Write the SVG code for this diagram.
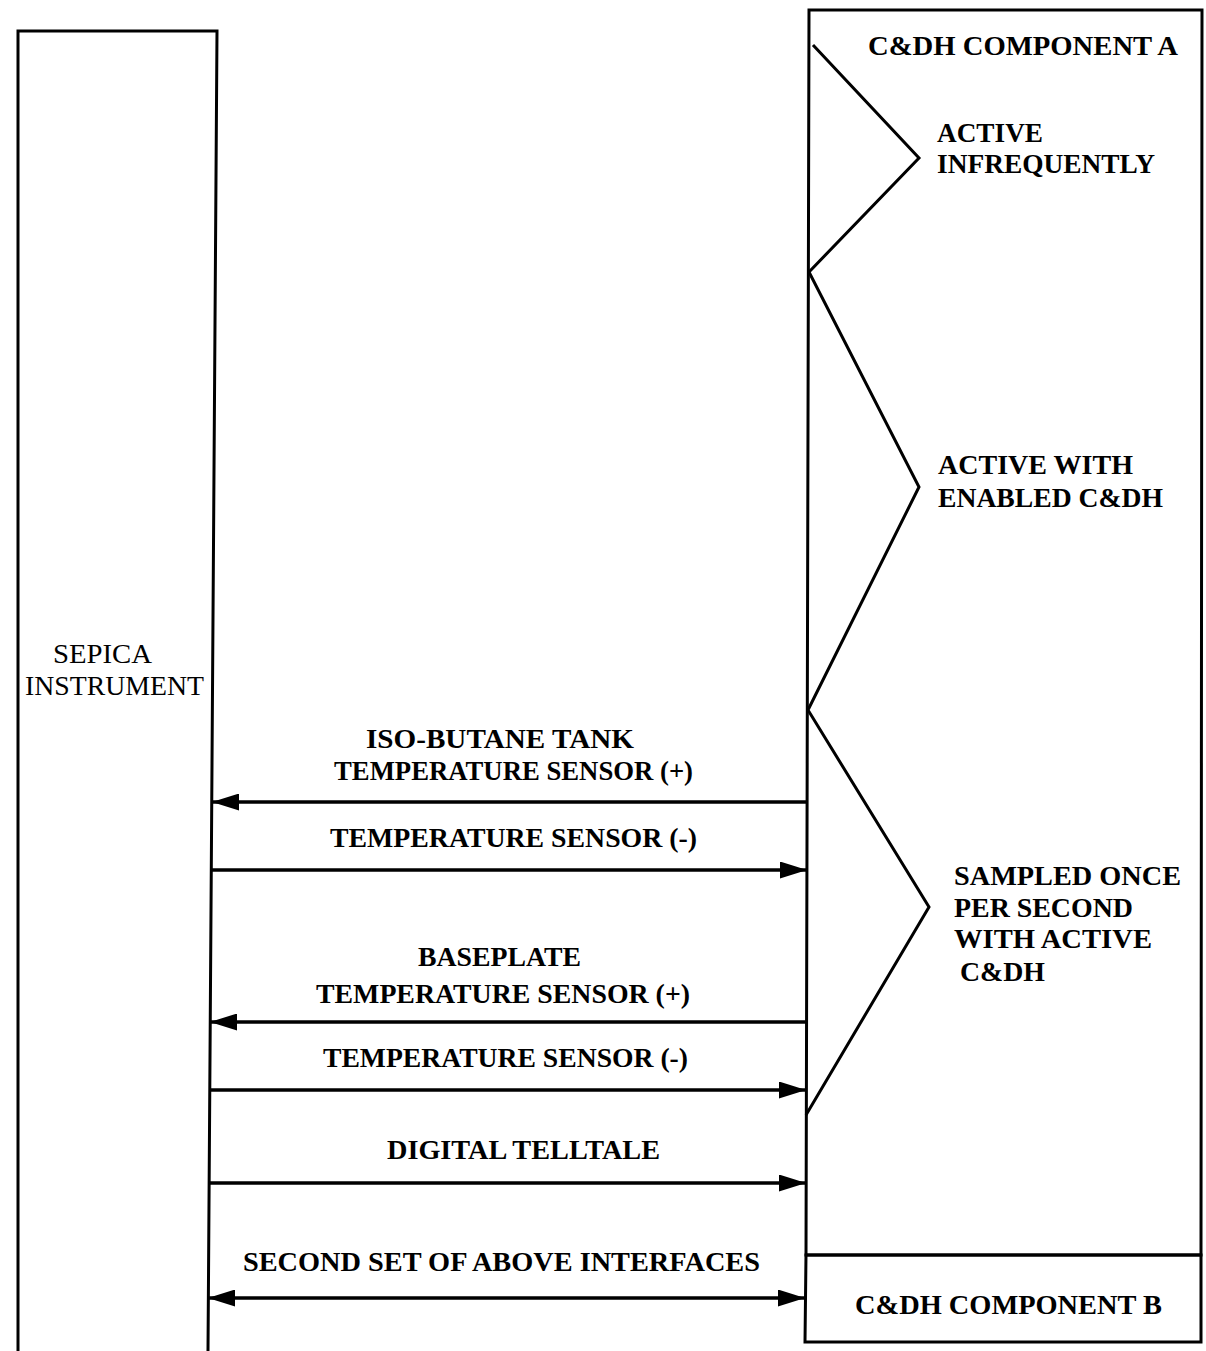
<svg xmlns="http://www.w3.org/2000/svg" width="1206" height="1351" viewBox="0 0 1206 1351">
<style>
.box{fill:none;stroke:#000;stroke-width:3;stroke-linejoin:miter}
.zig{fill:none;stroke:#000;stroke-width:3;stroke-linejoin:miter}
.wire{fill:none;stroke:#000;stroke-width:3.4}
.t{font-family:"Liberation Serif","Times New Roman",serif;font-weight:bold;font-size:27px;fill:#000}
.r{font-family:"Liberation Serif","Times New Roman",serif;font-weight:normal;font-size:27px;fill:#000}
</style>
<defs>
<marker id="ah" viewBox="0 0 27 17" refX="27" refY="8.5" markerWidth="27" markerHeight="17" orient="auto-start-reverse" markerUnits="userSpaceOnUse">
<path d="M0,0 L27,8.5 L0,17 Z" fill="#000"/>
</marker>
</defs>
<rect width="1206" height="1351" fill="#fff"/>

<g id="sepica-instrument">
<path class="box" d="M18,1351 L18,31 L217,31 L208,1351"/>
<text class="r" x="53" y="663" textLength="99" lengthAdjust="spacingAndGlyphs">SEPICA</text>
<text class="r" x="25" y="695" textLength="179" lengthAdjust="spacingAndGlyphs">INSTRUMENT</text>
</g>

<g id="cdh-component-a">
<path class="box" d="M809,10 L1202,10 L1201,1255 L806,1255 Z"/>
<text class="t" x="868" y="55" textLength="310" lengthAdjust="spacingAndGlyphs">C&amp;DH COMPONENT A</text>
</g>

<g id="cdh-component-b">
<path class="box" d="M806,1255 L1201,1255 L1201,1342 L805,1342 Z"/>
<text class="t" x="855" y="1314" textLength="307" lengthAdjust="spacingAndGlyphs">C&amp;DH COMPONENT B</text>
</g>

<g id="brackets">
<path class="zig" d="M813,45 L919,158 L809,272 L919,487 L808,710 L929,907 L806,1115"/>
<text class="t" x="937" y="142" textLength="106" lengthAdjust="spacingAndGlyphs">ACTIVE</text>
<text class="t" x="937" y="173" textLength="218" lengthAdjust="spacingAndGlyphs">INFREQUENTLY</text>
<text class="t" x="938" y="474" textLength="195" lengthAdjust="spacingAndGlyphs">ACTIVE WITH</text>
<text class="t" x="938" y="507" textLength="225" lengthAdjust="spacingAndGlyphs">ENABLED C&amp;DH</text>
<text class="t" x="954" y="885" textLength="227" lengthAdjust="spacingAndGlyphs">SAMPLED ONCE</text>
<text class="t" x="954" y="917" textLength="179" lengthAdjust="spacingAndGlyphs">PER SECOND</text>
<text class="t" x="954" y="948" textLength="198" lengthAdjust="spacingAndGlyphs">WITH ACTIVE</text>
<text class="t" x="960" y="981" textLength="85" lengthAdjust="spacingAndGlyphs">C&amp;DH</text>
</g>

<g id="connectors">
<line class="wire" x1="808" y1="802" x2="212" y2="802" marker-end="url(#ah)"/>
<line class="wire" x1="211" y1="870" x2="807" y2="870" marker-end="url(#ah)"/>
<line class="wire" x1="807" y1="1022" x2="210" y2="1022" marker-end="url(#ah)"/>
<line class="wire" x1="210" y1="1090" x2="806" y2="1090" marker-end="url(#ah)"/>
<line class="wire" x1="209" y1="1183" x2="806" y2="1183" marker-end="url(#ah)"/>
<line class="wire" x1="208" y1="1298" x2="805" y2="1298" marker-start="url(#ah)" marker-end="url(#ah)"/>
<text class="t" x="366" y="748" textLength="268" lengthAdjust="spacingAndGlyphs">ISO-BUTANE TANK</text>
<text class="t" x="334" y="780" textLength="359" lengthAdjust="spacingAndGlyphs">TEMPERATURE SENSOR (+)</text>
<text class="t" x="330" y="847" textLength="367" lengthAdjust="spacingAndGlyphs">TEMPERATURE SENSOR (-)</text>
<text class="t" x="418" y="966" textLength="163" lengthAdjust="spacingAndGlyphs">BASEPLATE</text>
<text class="t" x="316" y="1003" textLength="374" lengthAdjust="spacingAndGlyphs">TEMPERATURE SENSOR (+)</text>
<text class="t" x="323" y="1067" textLength="365" lengthAdjust="spacingAndGlyphs">TEMPERATURE SENSOR (-)</text>
<text class="t" x="387" y="1159" textLength="273" lengthAdjust="spacingAndGlyphs">DIGITAL TELLTALE</text>
<text class="t" x="243" y="1271" textLength="517" lengthAdjust="spacingAndGlyphs">SECOND SET OF ABOVE INTERFACES</text>
</g>
</svg>
